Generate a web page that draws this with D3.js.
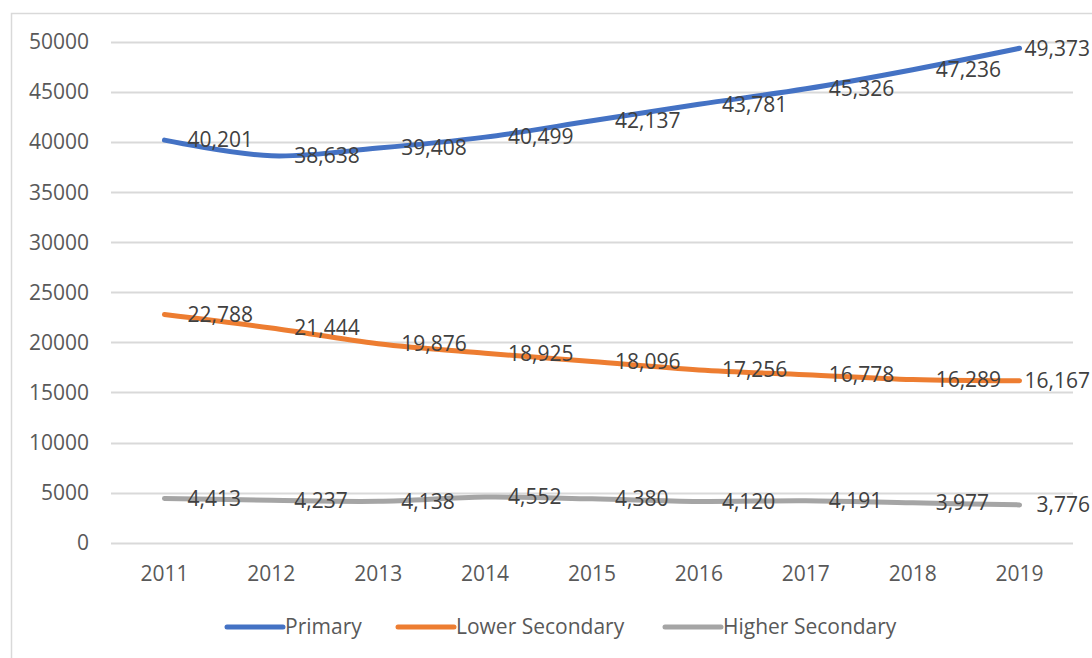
<!DOCTYPE html>
<html>
<head>
<meta charset="utf-8">
<script src="https://cdn.jsdelivr.net/npm/d3@7"></script>
<style>
  body { margin: 0; background: #fff; }
  text { font-family: "Open Sans", sans-serif; }
</style>
</head>
<body>
<div id="chart"></div>
<script>
var years = ['2011', '2012', '2013', '2014', '2015', '2016', '2017', '2018', '2019']
var primary = [40201, 38638, 39408, 40499, 42137, 43781, 45326, 47236, 49373]
var lowerSecondary = [22788, 21444, 19876, 18925, 18096, 17256, 16778, 16289, 16167]
var higherSecondary = [4413, 4237, 4138, 4552, 4380, 4120, 4191, 3977, 3776]
var yTicks = [0, 5000, 10000, 15000, 20000, 25000, 30000, 35000, 40000, 45000, 50000]

var series = [
    { name: 'Primary', values: primary, color: '#4472C4' },
    { name: 'Lower Secondary', values: lowerSecondary, color: '#ED7D31' },
    { name: 'Higher Secondary', values: higherSecondary, color: '#A5A5A5' }
]

var width = 1092, height = 658
var svg = d3.select('#chart').append('svg')
    .attr('width', width)
    .attr('height', height)

// chart border
svg.append('rect')
    .attr('x', 11.5).attr('y', 13.5)
    .attr('width', 1100).attr('height', 700)
    .style('fill', 'none')
    .style('stroke', '#D9D9D9')
    .style('stroke-width', '1.5px')

var x = d3.scaleBand()
    .domain(years)
    .range([111, 1073])

var y = d3.scaleLinear()
    .domain([0, 50000])
    .range([542.7, 42])

// gridlines
svg.append('g').selectAll('line')
    .data(yTicks)
    .enter()
    .append('line')
    .attr('x1', 111).attr('x2', 1073)
    .attr('y1', function (d) { return Math.round(y(d)) + 0.5 })
    .attr('y2', function (d) { return Math.round(y(d)) + 0.5 })
    .style('stroke', '#D9D9D9')
    .style('stroke-width', '2px')

// y axis labels
svg.append('g').selectAll('text')
    .data(yTicks)
    .enter()
    .append('text')
    .attr('x', 89)
    .attr('y', function (d) { return y(d) })
    .attr('dy', '0.35em')
    .attr('text-anchor', 'end')
    .style('font-size', '21px')
    .style('fill', '#595959')
    .text(function (d) { return d })

// x axis labels
svg.append('g').selectAll('text')
    .data(years)
    .enter()
    .append('text')
    .attr('x', function (d) { return x(d) + x.bandwidth() / 2 })
    .attr('y', 574)
    .attr('dy', '0.35em')
    .attr('text-anchor', 'middle')
    .style('font-size', '21px')
    .style('fill', '#595959')
    .text(function (d) { return d })

var line = d3.line()
    .x(function (d, i) { return x(years[i]) + x.bandwidth() / 2 })
    .y(function (d) { return y(d) })
    .curve(d3.curveCatmullRom.alpha(0))

svg.append('g').selectAll('path')
    .data(series)
    .enter()
    .append('path')
    .attr('d', function (d) { return line(d.values) })
    .style('fill', 'none')
    .style('stroke', function (d) { return d.color })
    .style('stroke-width', '5px')
    .style('stroke-linecap', 'round')
    .style('stroke-linejoin', 'round')

// data labels, right of each point, kept inside the chart
var fmt = d3.format(',')
series.forEach(function (s) {
    svg.append('g').selectAll('text')
        .data(s.values)
        .enter()
        .append('text')
        .attr('y', function (d) { return y(d) })
        .attr('dy', '0.35em')
        .style('font-size', '21px')
        .style('fill', '#404040')
        .text(function (d) { return fmt(d) })
        .attr('x', function (d, i) {
            var px = x(years[i]) + x.bandwidth() / 2
            var w = this.getComputedTextLength()
            return Math.min(px + 23, width - 2 - w)
        })
})

// legend
var legendX = [227, 398, 665]
var legend = svg.append('g').selectAll('g')
    .data(series)
    .enter()
    .append('g')
    .attr('transform', function (d, i) { return 'translate(' + legendX[i] + ',627)' })

legend.append('line')
    .attr('x1', 0).attr('x2', 56)
    .style('stroke', function (d) { return d.color })
    .style('stroke-width', '5px')
    .style('stroke-linecap', 'round')

legend.append('text')
    .attr('x', 58)
    .attr('dy', '0.35em')
    .style('font-size', '21px')
    .style('fill', '#595959')
    .text(function (d) { return d.name })
</script>
</body>
</html>
